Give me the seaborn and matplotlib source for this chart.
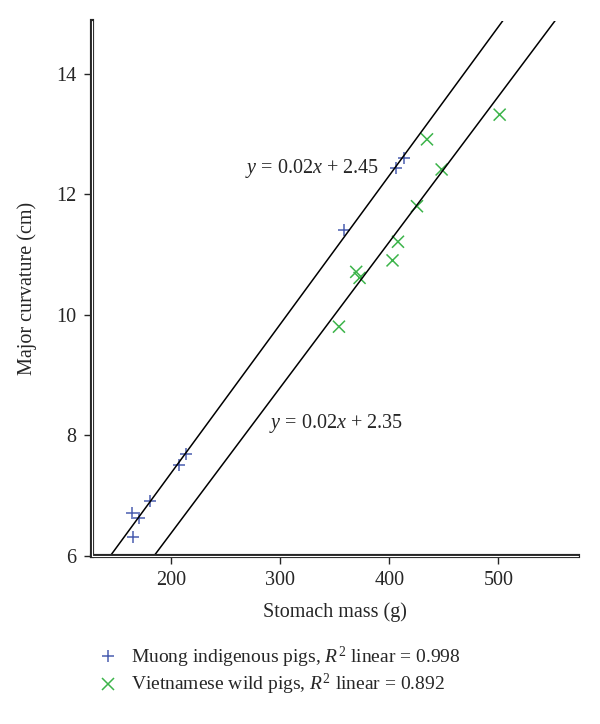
import matplotlib
matplotlib.use("Agg")
import matplotlib.pyplot as plt
import seaborn as sns
import pandas as pd

# values
muong_mass = [163.9, 170.9, 164.9, 180.7, 207.1, 213.8, 358.1, 406.4, 413.8]
muong_curv = [6.71, 6.63, 6.30, 6.91, 7.51, 7.68, 11.40, 12.43, 12.60]
wild_mass = [353.9, 369.7, 372.8, 403.0, 408.0, 425.4, 434.6, 448.0, 501.2]
wild_curv = [9.80, 10.71, 10.61, 10.90, 11.21, 11.80, 12.91, 12.41, 13.32]

groups = ["Muong indigenous pigs, $R^2$ linear = 0.998",
          "Vietnamese wild pigs, $R^2$ linear = 0.892"]
equations = ["$y$ = 0.02$x$ + 2.45", "$y$ = 0.02$x$ + 2.35"]
x_ticks = [200, 300, 400, 500]
y_ticks = [6, 8, 10, 12, 14]

df = pd.DataFrame({
    "mass": muong_mass + wild_mass,
    "curv": muong_curv + wild_curv,
    "group": [groups[0]] * len(muong_mass) + [groups[1]] * len(wild_mass),
})

sns.set_style("ticks")
plt.rcParams["font.family"] = ["Liberation Serif", "DejaVu Serif"]
plt.rcParams["mathtext.fontset"] = "custom"
plt.rcParams["mathtext.rm"] = "Liberation Serif"
plt.rcParams["mathtext.it"] = "Liberation Serif:italic"

fig = plt.figure(figsize=(6, 7.24), dpi=100)
ax = fig.add_axes([0.1533, 0.2327, 0.81, 0.7387])

xlim = (127.5, 573)
ylim = (6, 14.88)
ax.set_xlim(xlim)
ax.set_ylim(ylim)

colors = {groups[0]: "#4a5eb0", groups[1]: "#3cb44a"}
markers = {groups[0]: "+", groups[1]: "x"}

sns.scatterplot(data=df, x="mass", y="curv", hue="group", style="group",
                palette=colors, markers=markers, s=75, linewidth=1.1, ax=ax)

# regression lines across the whole x range
for g in groups:
    sub = df[df["group"] == g]
    sns.regplot(data=sub, x="mass", y="curv", scatter=False, ci=None,
                truncate=False, color="black", line_kws={"lw": 1.1}, ax=ax)

ax.set_xlim(xlim)
ax.set_ylim(ylim)

ax.text(390.8, 12.43, equations[0], ha="right", va="center", fontsize=14.5)
ax.text(289.9, 8.2, equations[1], ha="left", va="center", fontsize=14.5)

ax.set_xticks(x_ticks)
ax.set_yticks(y_ticks)
ax.tick_params(direction="out", length=6, width=1, labelsize=14.5, pad=5)
ax.set_xlabel("Stomach mass (g)", fontsize=14.5, labelpad=9)
ax.set_ylabel("Major curvature (cm)", fontsize=14.5, labelpad=14)

sns.despine(ax=ax)
for side in ["left", "bottom"]:
    ax.spines[side].set_linewidth(3)
# double-line look of the axes
ax.axvline(xlim[0], color="white", lw=0.8, zorder=3, clip_on=False)
ax.axhline(ylim[0], color="white", lw=0.8, zorder=3, clip_on=False)

leg = ax.legend(loc="upper left", bbox_to_anchor=(0.148, 0.123),
                bbox_transform=fig.transFigure, frameon=False, fontsize=14,
                handlelength=1.0, handletextpad=0.65, labelspacing=0.12,
                borderpad=0)

fig.savefig("out.png", dpi=100)
